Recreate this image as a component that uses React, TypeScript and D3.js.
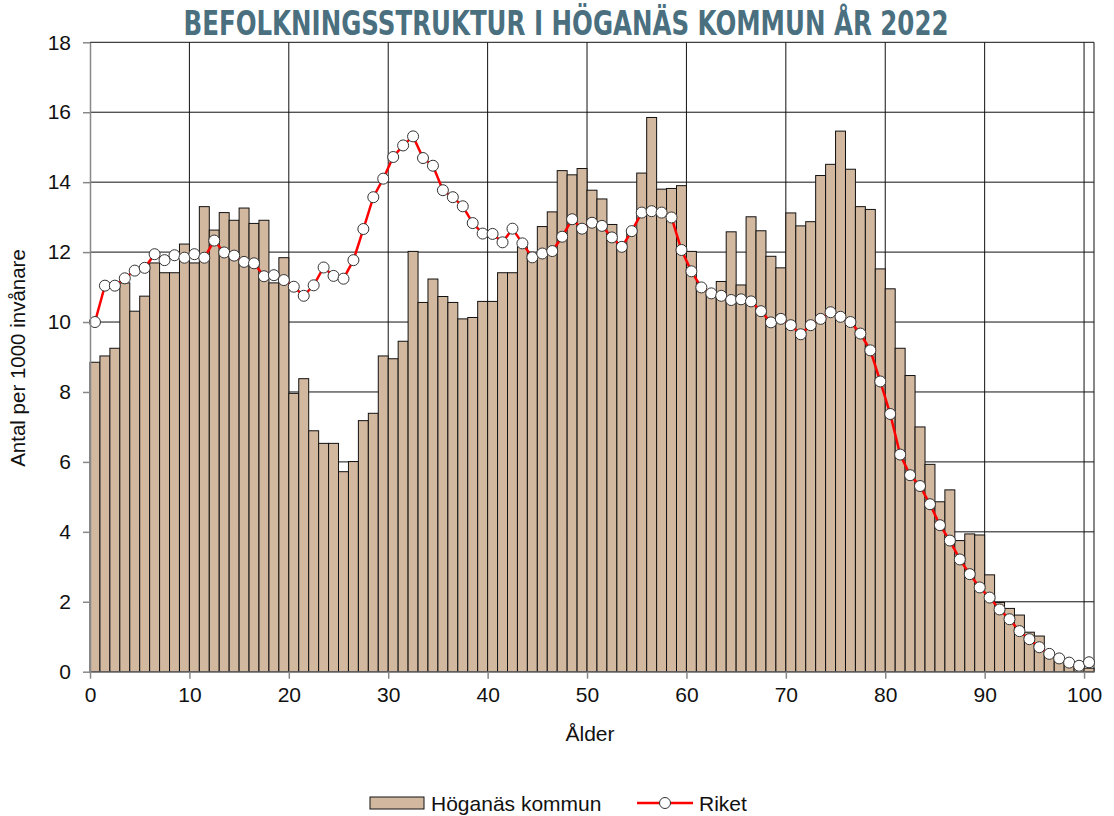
import {useEffect, useRef} from "react";
import * as d3 from "d3";

const title = "BEFOLKNINGSSTRUKTUR I HÖGANÄS KOMMUN ÅR 2022";
const yLabel = "Antal per 1000 invånare";
const xLabel = "Ålder";
const seriesNames = ["Höganäs kommun", "Riket"];

const ages = d3.range(0, 101);
const yTicks = [0, 2, 4, 6, 8, 10, 12, 14, 16, 18];
const xTicks = [0, 10, 20, 30, 40, 50, 60, 70, 80, 90, 100];

// Höganäs kommun, per 1000 invånare, ålder 0..100
const hoganas = [
    8.85, 9.03, 9.25, 11.12, 10.31, 10.74, 11.69, 11.41, 11.41, 12.23,
    11.69, 13.30, 12.63, 13.13, 12.91, 13.26, 12.82, 12.91, 11.12, 11.84,
    7.96, 8.38, 6.89, 6.53, 6.53, 5.72, 6.01, 7.18, 7.39, 9.03,
    8.95, 9.45, 12.02, 10.56, 11.23, 10.73, 10.56, 10.09, 10.13, 10.59,
    10.59, 11.41, 11.41, 12.15, 11.95, 12.73, 13.15, 14.33, 14.21, 14.39,
    13.77, 13.52, 12.79, 12.25, 12.6, 14.26, 15.85, 13.80, 13.82, 13.90,
    12.02, 10.95, 10.85, 11.16, 12.58, 11.06, 13.01, 12.61, 11.88, 11.55,
    13.12, 12.75, 12.87, 14.19, 14.51, 15.46, 14.37, 13.30, 13.22, 11.52,
    10.95, 9.25, 8.47, 7.00, 5.93, 4.86, 5.20, 3.75, 3.94, 3.91,
    2.77, 1.98, 1.81, 1.62, 1.13, 1.02, 0.45, 0.3, 0.2, 0.1, 0.1
];

// Riket
const riket = [
    10.0, 11.04, 11.04, 11.25, 11.47, 11.55, 11.94, 11.77, 11.91, 11.84,
    11.94, 11.84, 12.33, 11.99, 11.90, 11.72, 11.68, 11.31, 11.34, 11.20,
    11.01, 10.75, 11.05, 11.56, 11.32, 11.24, 11.77, 12.66, 13.57, 14.10,
    14.72, 15.05, 15.31, 14.69, 14.47, 13.77, 13.57, 13.31, 12.83, 12.53,
    12.52, 12.28, 12.67, 12.25, 11.85, 11.96, 12.03, 12.44, 12.94, 12.67,
    12.84, 12.75, 12.42, 12.15, 12.60, 13.13, 13.17, 13.13, 12.99, 12.06,
    11.45, 10.99, 10.82, 10.75, 10.63, 10.65, 10.59, 10.31, 9.99, 10.09,
    9.91, 9.65, 9.91, 10.09, 10.28, 10.15, 10.00, 9.67, 9.19, 8.30,
    7.37, 6.21, 5.62, 5.31, 4.79, 4.19, 3.75, 3.21, 2.79, 2.41,
    2.12, 1.78, 1.50, 1.16, 0.93, 0.70, 0.51, 0.38, 0.26, 0.17, 0.27
];

export default function App() {
    const ref = useRef<HTMLDivElement>(null);

    useEffect(() => {
        const W = 1114, H = 816;
        const left = 90, right = 1094, top = 42.3, bottom = 671.7;
        const font = "'Liberation Sans', Arial, sans-serif";

        const svg = d3.select(ref.current)
            .append("svg")
            .attr("width", W)
            .attr("height", H)
            .style("display", "block");

        svg.append("rect").attr("width", W).attr("height", H).attr("fill", "#fff");

        const x = d3.scaleLinear().domain([0, 101]).range([left, right]);
        const y = d3.scaleLinear().domain([0, 18]).range([bottom, top]);

        // grid
        const grid = svg.append("g").attr("stroke", "#111").attr("stroke-width", 1);
        grid.selectAll("line.h")
            .data(yTicks.filter(d => d > 0))
            .enter().append("line")
            .attr("x1", left).attr("x2", right)
            .attr("y1", d => y(d)).attr("y2", d => y(d));
        grid.selectAll("line.v")
            .data([...xTicks.filter(d => d > 0), 101])
            .enter().append("line")
            .attr("x1", d => x(d)).attr("x2", d => x(d))
            .attr("y1", top).attr("y2", bottom);

        // bars
        svg.append("g")
            .selectAll("rect")
            .data(ages)
            .enter().append("rect")
            .attr("x", d => x(d))
            .attr("y", d => y(hoganas[d]))
            .attr("width", d => x(d + 1) - x(d))
            .attr("height", d => y(0) - y(hoganas[d]))
            .attr("fill", "#d3b8a0")
            .attr("stroke", "#111")
            .attr("stroke-width", 1);

        // Riket line
        const line = d3.line<number>()
            .x(d => x(d + 0.5))
            .y(d => y(riket[d]));

        svg.append("path")
            .datum(ages)
            .attr("d", line)
            .attr("fill", "none")
            .attr("stroke", "#ff0000")
            .attr("stroke-width", 2.5);

        svg.append("g")
            .selectAll("circle")
            .data(ages)
            .enter().append("circle")
            .attr("cx", d => x(d + 0.5))
            .attr("cy", d => y(riket[d]))
            .attr("r", 5.5)
            .attr("fill", "#fff")
            .attr("stroke", "#333")
            .attr("stroke-width", 1);

        // axes
        const axisColor = "#888";
        const yAxis = svg.append("g")
            .attr("transform", `translate(${left},0)`)
            .call(d3.axisLeft(y).tickValues(yTicks).tickSize(7).tickPadding(12).tickSizeOuter(0));
        yAxis.select(".domain").attr("stroke", axisColor).attr("stroke-width", 1.5);
        yAxis.selectAll(".tick line").attr("stroke", axisColor).attr("stroke-width", 1.5);
        yAxis.selectAll(".tick text")
            .attr("font-family", font).attr("font-size", 21).attr("fill", "#111");

        const xAxis = svg.append("g")
            .attr("transform", `translate(0,${bottom})`)
            .call(d3.axisBottom(x).tickValues(xTicks).tickSize(7).tickPadding(8).tickSizeOuter(0));
        xAxis.select(".domain").attr("stroke", axisColor).attr("stroke-width", 1.5);
        xAxis.selectAll(".tick line").attr("stroke", axisColor).attr("stroke-width", 1.5);
        xAxis.selectAll(".tick text")
            .attr("font-family", font).attr("font-size", 21).attr("fill", "#111");

        // titles
        svg.append("text")
            .attr("x", 566)
            .attr("y", 35)
            .attr("text-anchor", "middle")
            .attr("font-family", "'Liberation Sans Narrow', 'DejaVu Sans Condensed', sans-serif")
            .attr("font-weight", "bold")
            .attr("font-size", 33)
            .attr("textLength", 765)
            .attr("lengthAdjust", "spacingAndGlyphs")
            .attr("fill", "#4a7080")
            .text(title);

        svg.append("text")
            .attr("x", 590)
            .attr("y", 741)
            .attr("text-anchor", "middle")
            .attr("font-family", font)
            .attr("font-size", 21)
            .attr("fill", "#111")
            .text(xLabel);

        svg.append("text")
            .attr("transform", "rotate(-90)")
            .attr("x", -358)
            .attr("y", 25)
            .attr("text-anchor", "middle")
            .attr("font-family", font)
            .attr("font-size", 20.5)
            .attr("fill", "#111")
            .text(yLabel);

        // legend
        const lg = svg.append("g").attr("font-family", font).attr("font-size", 21).attr("fill", "#111");
        lg.append("rect")
            .attr("x", 370).attr("y", 797).attr("width", 54).attr("height", 12)
            .attr("fill", "#d3b8a0").attr("stroke", "#111");
        lg.append("text").attr("x", 431).attr("y", 811).text(seriesNames[0]);
        lg.append("line")
            .attr("x1", 637).attr("x2", 693).attr("y1", 803).attr("y2", 803)
            .attr("stroke", "#ff0000").attr("stroke-width", 2.5);
        lg.append("circle")
            .attr("cx", 665).attr("cy", 803).attr("r", 5.5)
            .attr("fill", "#fff").attr("stroke", "#333");
        lg.append("text").attr("x", 699).attr("y", 811).text(seriesNames[1]);

        return () => {
            ref.current?.querySelector("svg")?.remove();
        };
    }, []);

    return <div ref={ref} style={{position: "absolute", left: 0, top: 0}}></div>;
}
